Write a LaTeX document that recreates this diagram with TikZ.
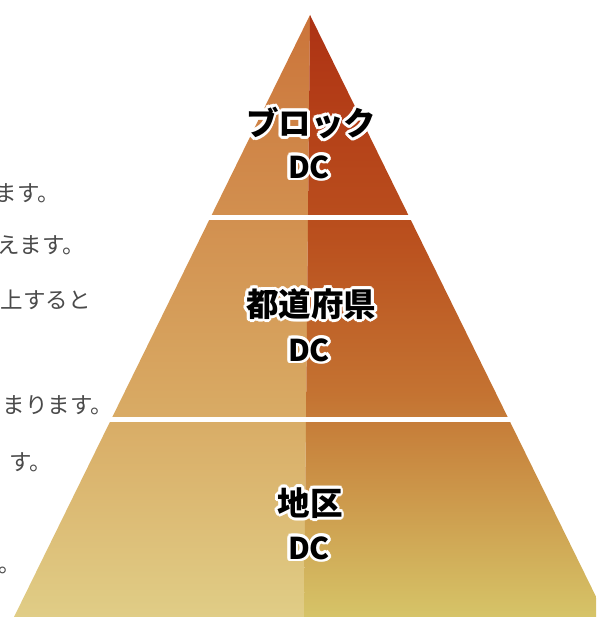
\documentclass[tikz,border=0pt]{standalone}
\usepackage{fontspec}
\newfontfamily\jp{Noto Sans CJK JP}
\definecolor{bodytext}{HTML}{4A4A4A}
\definecolor{lt}{RGB}{203,116,58}
\definecolor{lm}{RGB}{216,168,98}
\definecolor{lb}{RGB}{224,205,134}
\definecolor{rt}{RGB}{172,50,20}
\definecolor{ra}{RGB}{178,58,22}
\definecolor{rb1}{RGB}{186,80,30}
\definecolor{rc}{RGB}{196,115,50}
\definecolor{rbot}{RGB}{214,196,104}
\pgfdeclareverticalshading{leftshade}{100bp}{color(0bp)=(lb); color(25bp)=(lb); color(43.5bp)=(lm); color(75bp)=(lt); color(100bp)=(lt)}
\pgfdeclareverticalshading{rightshade}{100bp}{color(0bp)=(rbot); color(25bp)=(rbot); color(43.5bp)=(rc); color(56.5bp)=(rb1); color(70bp)=(ra); color(75bp)=(rt); color(100bp)=(rt)}
\newcommand\halotxt[1]{%
  \sbox0{#1}%
  \makebox[\wd0][l]{%
    \foreach \hang in {0,22.5,...,337.5}{%
      \rlap{\hspace*{\fpeval{2.8*cosd(\hang)}pt}\raisebox{\fpeval{2.8*sind(\hang)}pt}{\color{white}#1}}%
    }%
    \rlap{#1}%
  }%
}
\tikzset{
  lbl/.style={font=\jp\bfseries\fontsize{32.5}{32.5}\selectfont, text=black, inner sep=0pt},
  lbldc/.style={font=\jp\bfseries\fontsize{30}{30}\selectfont, text=black, inner sep=0pt},
  body/.style={font=\jp\fontsize{22.5}{22.5}\selectfont, text=bodytext, anchor=east, inner sep=0pt},
  gap/.style={fill=white}
}
\begin{document}
\begin{tikzpicture}[x=1pt,y=1pt]
\useasboundingbox (0,0) rectangle (596,617);
\clip (0,0) rectangle (596,617);
\coordinate (apex) at (310,602);
\coordinate (bl) at (14,0);
\coordinate (bs) at (304,0);
\coordinate (br) at (606,0);
\shade[shading=leftshade] (apex) -- (bl) -- (bs) -- cycle;
\shade[shading=rightshade] (apex) -- (bs) -- (br) -- cycle;
\fill[gap] (0,396.5) rectangle (596,402);
\fill[gap] (0,194.5) rectangle (596,200);
% body text (cut at the left edge)
\node[body] (t1) at (60,424) {ます。};
\node[body] (t2) at (85,372) {えます。};
\node[body] (t3) at (91,317) {上すると};
\node[body] (t4) at (113,212) {まります。};
\node[body] (t5) at (52,155) {す。};
\node[body] (t6) at (21,47) {。};
% labels
\node[lbl] (l1a) at (311,494) {\halotxt{ブロック}};
\node[lbldc] (l1b) at (309,450) {\halotxt{DC}};
\node[lbl] (l2a) at (311,313) {\halotxt{都道府県}};
\node[lbldc] (l2b) at (309,267) {\halotxt{DC}};
\node[lbl] (l3a) at (310,114) {\halotxt{地区}};
\node[lbldc] (l3b) at (309,69) {\halotxt{DC}};
\end{tikzpicture}
\end{document}
